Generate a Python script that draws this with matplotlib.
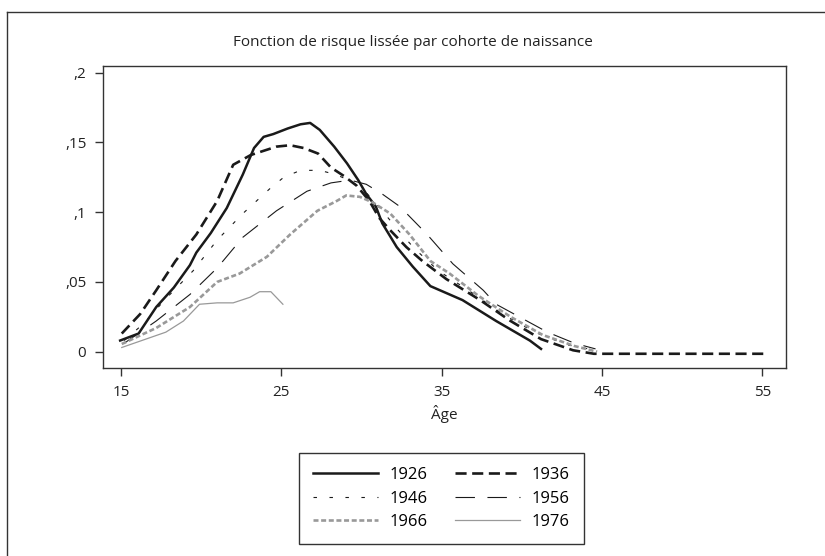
import matplotlib
matplotlib.use("Agg")
import matplotlib.pyplot as plt
from matplotlib.lines import Line2D

plt.rcParams['font.family'] = ['Open Sans', 'DejaVu Sans']
plt.rcParams['lines.scale_dashes'] = False

# smoothed hazard by birth cohort
age_1926 = [14.95, 16.1, 17.2, 18.3, 19.3, 19.7, 20.6, 21.6, 22.6, 23.3, 23.9, 24.5, 25.4,
            26.2, 26.8, 27.4, 28.3, 29.1, 29.8, 30.3, 30.9, 31.3, 32.2, 33.2, 34.3, 36.3,
            38.4, 40.5, 41.2]
haz_1926 = [.008, .013, .032, .046, .062, .071, .085, .103, .127, .146, .154, .156, .160,
            .163, .164, .159, .147, .135, .123, .113, .104, .092, .075, .061, .047, .037,
            .022, .008, .002]

age_1936 = [15.05, 16.2, 17.2, 18.4, 19.7, 21.0, 22.0, 23.1, 23.9, 24.7, 25.55, 26.4, 27.3,
            28.1, 28.9, 29.7, 30.5, 31.1, 31.8, 32.8, 33.8, 35.3, 37.4, 39.3, 41.2, 43.2,
            44.5, 55.25]
haz_1936 = [.013, .027, .044, .065, .084, .108, .134, .141, .144, .147, .148, .146, .142,
            .132, .126, .119, .108, .096, .087, .075, .065, .052, .037, .022, .009, .001,
            -.0015, -.0015]

age_1946 = [15.2, 16.4, 17.8, 19.5, 21.0, 22.6, 24.3, 25.15, 26.2, 27.4, 28.4, 29.4, 30.3,
            31.3, 32.3, 33.3, 34.8, 36.8, 38.8, 40.8, 42.8, 44.6]
haz_1946 = [.008, .020, .038, .058, .080, .099, .117, .125, .130, .130, .127, .122, .114,
            .101, .087, .074, .058, .043, .027, .014, .005, .001]

age_1956 = [15.2, 17.2, 19.3, 21.0, 22.6, 24.7, 26.6, 28.1, 29.3, 30.3, 31.3, 32.4, 34.1,
            35.7, 37.6, 38.4, 41.6, 43.3, 44.6]
haz_1956 = [.006, .022, .041, .060, .082, .101, .115, .121, .123, .120, .113, .104, .084,
            .063, .044, .034, .014, .006, .002]

age_1966 = [15.05, 17.2, 19.3, 21.0, 22.4, 24.1, 25.55, 27.25, 28.45, 29.05, 29.9, 30.7,
            31.8, 33.0, 34.3, 35.5, 37.3, 39.3, 41.3, 43.3, 44.7]
haz_1966 = [.0055, .017, .032, .050, .056, .068, .084, .101, .108, .112, .111, .107, .099,
            .084, .065, .056, .040, .025, .012, .004, .000]

age_1976 = [15.05, 17.8, 18.9, 19.9, 21.0, 22.0, 23.05, 23.65, 24.35, 25.1]
haz_1976 = [.003, .014, .022, .034, .035, .035, .039, .043, .043, .034]

cohorts = ['1926', '1936', '1946', '1956', '1966', '1976']
ages = [age_1926, age_1936, age_1946, age_1956, age_1966, age_1976]
hazards = [haz_1926, haz_1936, haz_1946, haz_1956, haz_1966, haz_1976]

styles = [
    dict(color='#1a1a1a', lw=1.8, ls='-'),
    dict(color='#1a1a1a', lw=1.9, ls=(0, (8, 4))),
    dict(color='#1a1a1a', lw=0.8, ls=(0, (2.5, 9))),
    dict(color='#1a1a1a', lw=0.8, ls=(0, (14, 9))),
    dict(color='#999999', lw=1.9, ls=(0, (3.6, 1.9))),
    dict(color='#999999', lw=0.9, ls='-'),
]

fig = plt.figure(figsize=(8.25, 5.56), dpi=100)
ax = fig.add_axes([103 / 825, 1 - 368 / 556, 683 / 825, 302 / 556])

lines = []
for name, a, h, st in zip(cohorts, ages, hazards, styles):
    ln, = ax.plot(a, h, label=name, color=st['color'], linewidth=st['lw'], linestyle=st['ls'])
    lines.append(ln)

ax.set_xlim(13.88, 56.48)
ax.set_ylim(-0.0117, 0.2048)
ax.set_xticks([15, 25, 35, 45, 55])
ax.set_yticks([0, .05, .1, .15, .2])
ax.set_yticklabels(['0', ',05', ',1', ',15', ',2'])
ax.tick_params(direction='out', length=6, width=1, color='#333333', labelsize=11,
               labelcolor='#222222', pad=6)
for sp in ax.spines.values():
    sp.set_color('#333333')
    sp.set_linewidth(1)

ax.set_xlabel('Âge', fontsize=11, color='#222222', labelpad=4)
fig.text(0.5, 1 - 42 / 556, 'Fonction de risque lissée par cohorte de naissance',
         ha='center', va='center', fontsize=11, color='#222222')

# legend filled row by row: 1926 1936 / 1946 1956 / 1966 1976
order = [0, 2, 4, 1, 3, 5]
leg = fig.legend([lines[i] for i in order], [cohorts[i] for i in order],
                 loc='center', bbox_to_anchor=(0.535, 0.1034), ncol=2, fontsize=12,
                 handlelength=3.9, columnspacing=1.6, handletextpad=0.7,
                 fancybox=False, framealpha=1, edgecolor='#333333', borderpad=0.85,
                 labelspacing=0.45)
leg.get_frame().set_linewidth(1)

# outer frame (left and top edges are visible)
fig.add_artist(Line2D([7 / 825, 7 / 825], [0, 1 - 12 / 556], color='#333333', lw=1))
fig.add_artist(Line2D([7 / 825, 1], [1 - 12 / 556, 1 - 12 / 556], color='#333333', lw=1))

fig.savefig('out.png', dpi=100)
